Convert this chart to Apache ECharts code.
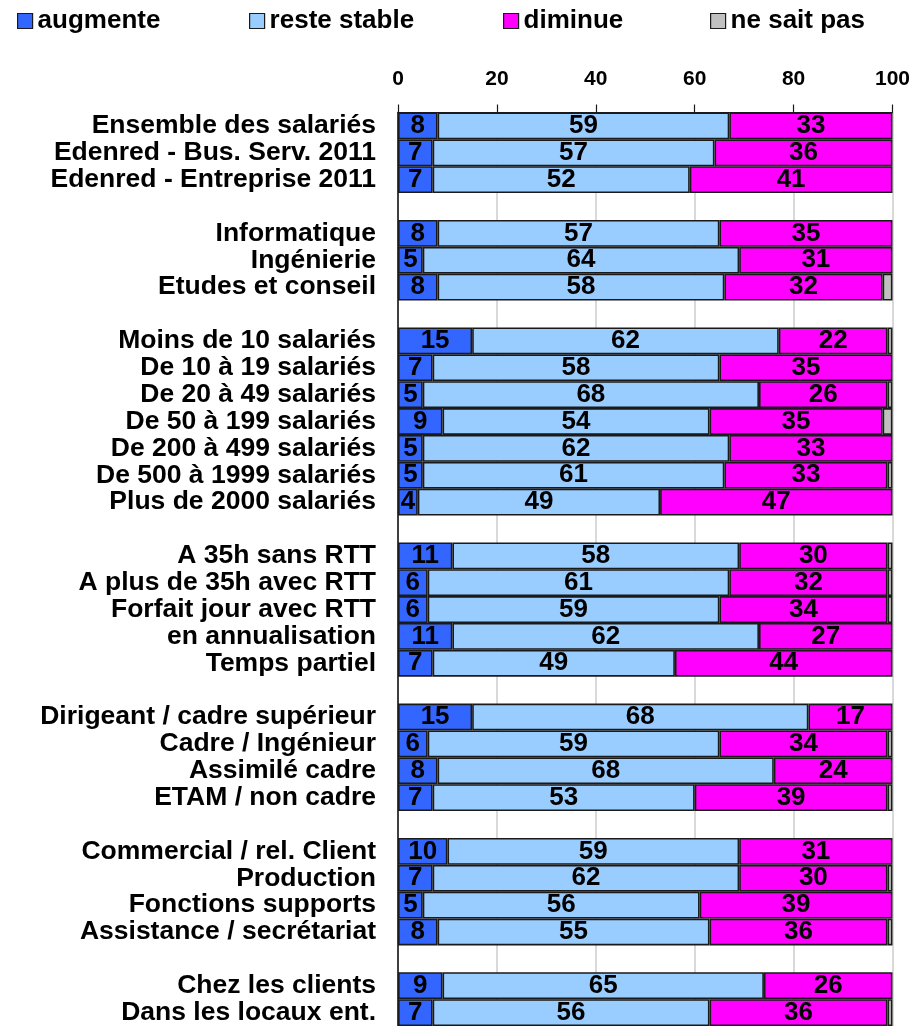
<!DOCTYPE html>
<html>
<head>
<meta charset="utf-8">
<script src="https://cdn.jsdelivr.net/npm/echarts@6/dist/echarts.min.js"></script>
<style>
html,body{margin:0;padding:0;background:#fff;}
#chart{width:913px;height:1026px;}
</style>
</head>
<body>
<div id="chart"></div>
<script>
var categories = ['Ensemble des salariés','Edenred - Bus. Serv. 2011','Edenred - Entreprise 2011','',
  'Informatique','Ingénierie','Etudes et conseil','',
  'Moins de 10 salariés','De 10 à 19 salariés','De 20 à 49 salariés','De 50 à 199 salariés','De 200 à 499 salariés','De 500 à 1999 salariés','Plus de 2000 salariés','',
  'A 35h sans RTT','A plus de 35h avec RTT','Forfait jour avec RTT','en annualisation','Temps partiel','',
  'Dirigeant / cadre supérieur','Cadre / Ingénieur','Assimilé cadre','ETAM / non cadre','',
  'Commercial / rel. Client','Production','Fonctions supports','Assistance / secrétariat','',
  'Chez les clients','Dans les locaux ent.'];
var seriesNames = ['augmente','reste stable','diminue','ne sait pas'];
var augmente = [8,7,7,null,8,5,8,null,15,7,5,9,5,5,4,null,11,6,6,11,7,null,15,6,8,7,null,10,7,5,8,null,9,7];
var resteStable = [59,57,52,null,57,64,58,null,62,58,68,54,62,61,49,null,58,61,59,62,49,null,68,59,68,53,null,59,62,56,55,null,65,56];
var diminue = [33,36,41,null,35,31,32,null,22,35,26,35,33,33,47,null,30,32,34,27,44,null,17,34,24,39,null,31,30,39,36,null,26,36];
var neSaitPas = [0,0,0,null,0,0,2,null,1,0,1,2,0,1,0,null,1,1,1,0,0,null,0,1,0,1,null,0,1,0,1,null,0,1];
var xTicks = [0,20,40,60,80,100];

var colors = ['#3366FF','#99CCFF','#FF00FF','#C0C0C0'];
var values = [augmente, resteStable, diminue, neSaitPas];
var legendLeft = [17, 249, 503, 710];
var FONT = '"Liberation Sans", Arial, Helvetica, sans-serif';

var chart = echarts.init(document.getElementById('chart'), null, {renderer:'canvas'});

var series = seriesNames.map(function(name, i){
  return {
    name: name,
    type: 'bar',
    stack: 'total',
    barCategoryGap: '0%',
    data: values[i].map(function(v){ return (v === 0 || v === null) ? '-' : v; }),
    itemStyle: { color: colors[i], borderColor: '#1a1a1a', borderWidth: 1.6 },
    label: {
      show: i < 3,
      position: 'inside',
      color: '#000',
      fontFamily: FONT,
      fontWeight: 'bold',
      fontSize: 26,
      formatter: function(p){ return p.value; }
    },
    emphasis: { disabled: true },
    animation: false
  };
});

var legends = seriesNames.map(function(name, i){
  return {
    data: [name],
    left: legendLeft[i],
    top: 8,
    padding: 0,
    itemWidth: 15,
    itemHeight: 15,
    icon: 'rect',
    itemStyle: { borderColor: '#1a1a1a', borderWidth: 1.2 },
    selectedMode: false,
    textStyle: { fontFamily: FONT, fontWeight: 'bold', fontSize: 26, color: '#000' }
  };
});

chart.setOption({
  animation: false,
  backgroundColor: '#fff',
  legend: legends,
  grid: { left: 398, width: 495, top: 112.5, height: 918, containLabel: false },
  xAxis: {
    type: 'value',
    position: 'top',
    min: 0,
    max: 100,
    interval: 20,
    axisLine: { show: true, lineStyle: { color: '#1a1a1a', width: 1 } },
    axisTick: { show: true, length: 8, lineStyle: { color: '#1a1a1a', width: 1.2 } },
    axisLabel: {
      margin: 23,
      color: '#000',
      fontFamily: FONT,
      fontWeight: 'bold',
      fontSize: 21,
      formatter: function(v){ return xTicks.indexOf(v) >= 0 ? String(v) : ''; }
    },
    splitLine: { show: true, lineStyle: { color: '#cccccc', width: 1.5 } }
  },
  yAxis: {
    type: 'category',
    inverse: true,
    data: categories,
    axisLine: { show: true, lineStyle: { color: '#1a1a1a', width: 1.6 } },
    axisTick: { show: false },
    axisLabel: {
      margin: 22,
      color: '#000',
      fontFamily: FONT,
      fontWeight: 'bold',
      fontSize: 26.5,
      interval: 0
    },
    splitLine: { show: false }
  },
  series: series
});
</script>
</body>
</html>
